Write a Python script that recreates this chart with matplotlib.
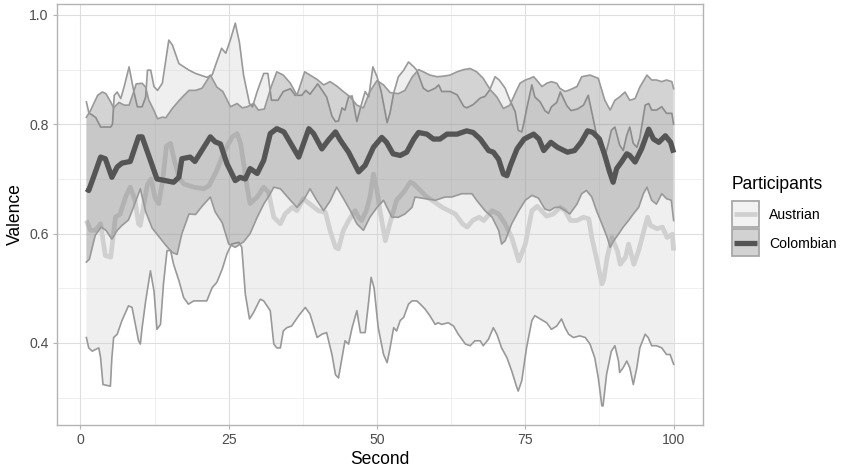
import matplotlib
matplotlib.use("Agg")
import numpy as np
import matplotlib.pyplot as plt
from matplotlib.patches import Rectangle
from matplotlib.lines import Line2D

plt.rcParams['font.family'] = ['Liberation Sans', 'DejaVu Sans']

# ---------------- data (second, valence) ----------------
participants = ["Austrian", "Colombian"]
x_ticks = [0, 25, 50, 75, 100]
y_ticks = [0.4, 0.6, 0.8, 1.0]
y_tick_labels = ["0.4", "0.6", "0.8", "1.0"]

austrian_mean = [
    (1, 0.624), (1.7, 0.606), (2.5, 0.606), (3.4, 0.618), (3.9, 0.581), (4.2, 0.560), (5.1, 0.557),
    (5.5, 0.593), (5.9, 0.630), (6.7, 0.636), (7.6, 0.667), (8.4, 0.685), (9.2, 0.661), (9.8, 0.618),
    (10.1, 0.615), (10.7, 0.654), (11.3, 0.690), (11.9, 0.700), (12.6, 0.665), (13.2, 0.655),
    (13.9, 0.700), (14.5, 0.760), (15.2, 0.765), (15.7, 0.740), (16.6, 0.703), (17.4, 0.691),
    (19.1, 0.685), (20.8, 0.682), (21.7, 0.688), (23.0, 0.716), (24.2, 0.749), (25.6, 0.777),
    (26.4, 0.783), (27.0, 0.765), (27.6, 0.722), (28.1, 0.685), (28.6, 0.655), (29.8, 0.667),
    (30.9, 0.685), (31.7, 0.676), (32.6, 0.630), (33.7, 0.618), (34.5, 0.636), (35.7, 0.648),
    (36.5, 0.642), (37.6, 0.664), (38.7, 0.654), (40.1, 0.642), (41.3, 0.639), (42.1, 0.605),
    (43.0, 0.575), (43.5, 0.572), (44.3, 0.605), (45.2, 0.624), (46.3, 0.642), (46.9, 0.630),
    (47.4, 0.624), (48.2, 0.642), (48.8, 0.667), (49.4, 0.709), (50.0, 0.679), (50.5, 0.642),
    (51.4, 0.587), (52.2, 0.620), (53.3, 0.661), (54.5, 0.676), (55.6, 0.694), (56.2, 0.691),
    (57.3, 0.679), (58.4, 0.667), (60.1, 0.655), (61.0, 0.648), (62.1, 0.642), (63.2, 0.636),
    (64.4, 0.618), (65.2, 0.612), (66.1, 0.624), (67.2, 0.630), (68.0, 0.624), (69.4, 0.642),
    (70.5, 0.636), (71.6, 0.618), (72.7, 0.593), (73.9, 0.550), (75.0, 0.581), (76.1, 0.642),
    (77.0, 0.650), (78.6, 0.632), (79.7, 0.636), (80.9, 0.648), (81.7, 0.642), (82.6, 0.624),
    (83.7, 0.624), (84.8, 0.630), (85.7, 0.627), (86.2, 0.593), (87.1, 0.550), (87.9, 0.508),
    (88.2, 0.515), (88.8, 0.557), (89.6, 0.593), (90.5, 0.569), (91.0, 0.544), (91.9, 0.557),
    (92.4, 0.581), (93.3, 0.544), (94.1, 0.569), (95.0, 0.606), (95.6, 0.630), (96.1, 0.615),
    (97.2, 0.609), (98.1, 0.612), (98.9, 0.593), (99.8, 0.599), (100, 0.569),
]

austrian_upper = [
    (1, 0.841), (1.46, 0.820), (2.0, 0.817), (2.6, 0.812), (3.4, 0.795), (5.1, 0.795), (5.4, 0.800),
    (5.7, 0.853), (6.2, 0.859), (6.8, 0.847), (7.4, 0.870), (8.2, 0.905), (9.0, 0.860), (9.6, 0.832),
    (10.4, 0.832), (11.0, 0.850), (11.3, 0.899), (11.85, 0.899), (12.4, 0.869), (13.0, 0.862),
    (13.8, 0.875), (14.9, 0.954), (15.5, 0.945), (16.6, 0.911), (18.3, 0.899), (19.4, 0.893),
    (21.3, 0.886), (22.2, 0.890), (23.0, 0.915), (23.8, 0.939), (24.5, 0.930), (25.3, 0.955),
    (26.1, 0.985), (26.8, 0.950), (27.5, 0.890), (28.5, 0.838), (29.0, 0.832), (29.8, 0.860),
    (30.9, 0.893), (31.6, 0.893), (32.2, 0.844), (33.3, 0.844), (34.2, 0.860), (35.4, 0.865),
    (36.2, 0.853), (37.3, 0.853), (38.0, 0.862), (38.7, 0.855), (40.0, 0.874), (41.5, 0.850),
    (42.4, 0.815), (43.0, 0.805), (43.5, 0.806), (44.1, 0.830), (44.6, 0.826), (45.2, 0.850),
    (45.8, 0.852), (46.6, 0.805), (47.2, 0.830), (48.0, 0.860), (48.6, 0.850), (49.3, 0.905),
    (50.0, 0.887), (50.7, 0.860), (51.7, 0.803), (52.2, 0.821), (52.8, 0.857), (53.6, 0.887),
    (54.5, 0.899), (55.3, 0.914), (56.2, 0.905), (56.7, 0.899), (57.8, 0.866), (58.6, 0.860),
    (59.8, 0.866), (60.4, 0.872), (60.9, 0.860), (62.3, 0.860), (63.5, 0.854), (64.6, 0.833),
    (65.1, 0.830), (66.2, 0.836), (67.4, 0.848), (68.2, 0.851), (69.0, 0.863), (69.9, 0.887),
    (70.6, 0.881), (71.6, 0.866), (72.4, 0.844), (73.3, 0.823), (73.8, 0.789), (74.4, 0.786),
    (74.7, 0.800), (75.3, 0.832), (76.1, 0.872), (76.6, 0.850), (77.5, 0.841), (78.3, 0.825),
    (78.9, 0.820), (79.4, 0.832), (80.3, 0.840), (80.9, 0.859), (82.0, 0.834), (82.7, 0.825),
    (83.8, 0.828), (84.8, 0.835), (85.6, 0.853), (86.5, 0.807), (87.3, 0.765), (87.9, 0.752),
    (88.4, 0.740), (89.0, 0.765), (89.5, 0.789), (90.1, 0.795), (90.9, 0.762), (91.5, 0.752),
    (92.1, 0.780), (92.6, 0.795), (93.2, 0.765), (93.8, 0.758), (94.3, 0.775), (95.2, 0.835),
    (95.8, 0.838), (96.3, 0.826), (97.1, 0.826), (98.0, 0.832), (98.8, 0.820), (99.7, 0.820),
    (100, 0.800),
]

austrian_lower = [
    (1.0, 0.410), (1.4, 0.391), (2.0, 0.385), (2.5, 0.388), (3.1, 0.391), (3.4, 0.373), (3.8, 0.324),
    (5.05, 0.321), (5.3, 0.373), (5.6, 0.410), (6.2, 0.416), (7.0, 0.441), (8.1, 0.468), (8.7, 0.465),
    (9.8, 0.404), (10.1, 0.398), (10.4, 0.428), (11.0, 0.477), (11.8, 0.532), (12.4, 0.495),
    (12.9, 0.425), (13.5, 0.434), (14.0, 0.508), (14.6, 0.569), (15.2, 0.569), (15.7, 0.544),
    (16.6, 0.514), (17.4, 0.483), (18.2, 0.471), (19.1, 0.477), (20.2, 0.477), (21.3, 0.477),
    (22.2, 0.501), (23.0, 0.511), (23.9, 0.535), (24.7, 0.563), (25.5, 0.581), (26.7, 0.584),
    (27.2, 0.575), (27.8, 0.489), (28.5, 0.444), (29.2, 0.456), (30.3, 0.480), (30.9, 0.477),
    (32.0, 0.459), (32.6, 0.398), (33.1, 0.391), (33.7, 0.391), (34.2, 0.422), (34.8, 0.428),
    (35.6, 0.431), (36.8, 0.450), (37.9, 0.465), (38.7, 0.453), (39.9, 0.410), (40.7, 0.416),
    (41.5, 0.419), (42.4, 0.379), (43.0, 0.342), (43.5, 0.336), (44.1, 0.373), (44.6, 0.404),
    (45.2, 0.398), (45.8, 0.428), (46.6, 0.459), (47.2, 0.419), (48.0, 0.419), (48.6, 0.477),
    (49.0, 0.520), (49.5, 0.501), (50.2, 0.428), (51.1, 0.379), (51.7, 0.364), (52.2, 0.391),
    (52.8, 0.428), (53.3, 0.422), (53.9, 0.441), (54.5, 0.447), (55.3, 0.471), (55.9, 0.477),
    (56.7, 0.477), (57.3, 0.471), (58.1, 0.462), (58.9, 0.450), (59.8, 0.434), (60.3, 0.437),
    (60.9, 0.434), (62.0, 0.437), (62.9, 0.431), (63.7, 0.416), (64.9, 0.398), (65.7, 0.395),
    (66.5, 0.404), (67.4, 0.404), (67.9, 0.395), (68.8, 0.407), (69.6, 0.428), (70.2, 0.416),
    (71.0, 0.391), (71.9, 0.373), (72.7, 0.349), (73.5, 0.321), (73.8, 0.312), (74.4, 0.331),
    (75.2, 0.391), (76.1, 0.441), (76.6, 0.450), (77.5, 0.444), (78.6, 0.437), (79.4, 0.425),
    (80.3, 0.431), (81.1, 0.444), (81.7, 0.428), (82.3, 0.416), (83.1, 0.410), (84.2, 0.413),
    (85.1, 0.410), (85.9, 0.398), (86.7, 0.373), (87.3, 0.336), (87.9, 0.285), (88.1, 0.285),
    (88.7, 0.343), (89.5, 0.385), (90.1, 0.395), (90.7, 0.367), (90.9, 0.346), (91.5, 0.355),
    (92.1, 0.367), (92.6, 0.355), (93.2, 0.324), (93.8, 0.355), (94.3, 0.391), (95.2, 0.416),
    (95.7, 0.410), (96.3, 0.395), (97.1, 0.395), (98.0, 0.391), (98.8, 0.379), (99.4, 0.379),
    (100, 0.361),
]

colombian_mean = [
    (1, 0.682), (1.4, 0.679), (2.2, 0.703), (3.4, 0.740), (4.2, 0.737), (5.3, 0.703), (6.2, 0.722),
    (7.0, 0.729), (8.4, 0.732), (9.8, 0.777), (10.4, 0.777), (11.8, 0.734), (12.9, 0.700),
    (14.3, 0.697), (15.7, 0.694), (16.6, 0.703), (17.1, 0.737), (18.5, 0.740), (19.3, 0.732),
    (20.8, 0.758), (21.9, 0.777), (22.7, 0.768), (23.6, 0.764), (24.7, 0.728), (26.1, 0.697),
    (26.9, 0.703), (27.8, 0.700), (28.6, 0.719), (29.8, 0.710), (30.9, 0.734), (32.0, 0.783),
    (33.1, 0.792), (34.3, 0.786), (34.8, 0.777), (36.8, 0.740), (38.5, 0.792), (39.3, 0.783),
    (40.7, 0.755), (41.8, 0.771), (43.0, 0.786), (43.8, 0.771), (45.2, 0.749), (46.9, 0.713),
    (48.0, 0.725), (49.4, 0.758), (50.8, 0.776), (51.6, 0.767), (52.7, 0.746), (53.9, 0.743),
    (55.0, 0.749), (56.2, 0.773), (57.0, 0.785), (58.4, 0.782), (59.5, 0.773), (60.6, 0.773),
    (61.8, 0.782), (63.5, 0.782), (65.1, 0.788), (66.2, 0.785), (67.4, 0.773), (68.8, 0.752),
    (69.6, 0.749), (70.5, 0.736), (71.3, 0.709), (71.9, 0.706), (72.5, 0.725), (73.6, 0.755),
    (74.8, 0.773), (76.4, 0.782), (77.3, 0.773), (78.1, 0.752), (79.3, 0.767), (80.4, 0.758),
    (82.1, 0.749), (83.3, 0.752), (84.4, 0.767), (85.5, 0.788), (86.4, 0.785), (87.5, 0.773),
    (88.4, 0.743), (89.2, 0.713), (89.8, 0.694), (90.4, 0.719), (91.2, 0.731), (92.1, 0.746),
    (92.6, 0.743), (93.5, 0.731), (94.6, 0.755), (95.8, 0.791), (96.6, 0.773), (97.5, 0.767),
    (98.6, 0.779), (99.5, 0.767), (100, 0.748),
]

colombian_upper = [
    (1, 0.813), (1.6, 0.823), (2.9, 0.853), (3.7, 0.859), (4.3, 0.856), (5.1, 0.841), (5.6, 0.830),
    (6.5, 0.840), (7.4, 0.835), (8.2, 0.835), (9.0, 0.860), (9.4, 0.874), (10.4, 0.875),
    (11.0, 0.868), (11.5, 0.845), (12.4, 0.825), (13.0, 0.810), (13.8, 0.813), (14.4, 0.812),
    (15.5, 0.829), (16.6, 0.843), (17.2, 0.850), (18.3, 0.862), (19.4, 0.862), (20.5, 0.866),
    (21.9, 0.890), (23.0, 0.868), (24.0, 0.860), (25.3, 0.832), (26.4, 0.838), (27.3, 0.830),
    (28.1, 0.832), (29.2, 0.838), (30.0, 0.826), (31.0, 0.828), (32.2, 0.870), (33.1, 0.896),
    (34.2, 0.890), (35.4, 0.875), (36.5, 0.853), (37.8, 0.896), (38.7, 0.890), (39.9, 0.882),
    (41.0, 0.872), (42.1, 0.878), (43.2, 0.870), (44.3, 0.860), (45.5, 0.850), (46.6, 0.835),
    (47.7, 0.830), (48.8, 0.860), (50.0, 0.880), (51.1, 0.872), (52.2, 0.858), (53.6, 0.856),
    (54.7, 0.862), (55.9, 0.886), (57.0, 0.900), (57.8, 0.896), (58.9, 0.890), (60.1, 0.887),
    (61.2, 0.888), (62.3, 0.890), (63.5, 0.896), (64.6, 0.900), (65.7, 0.902), (66.8, 0.896),
    (67.9, 0.884), (69.1, 0.863), (70.2, 0.850), (71.3, 0.829), (72.4, 0.835), (73.3, 0.857),
    (74.1, 0.875), (75.0, 0.881), (75.8, 0.884), (76.4, 0.887), (76.9, 0.881), (77.8, 0.869),
    (78.6, 0.875), (79.4, 0.878), (80.3, 0.875), (80.8, 0.866), (81.7, 0.860), (82.5, 0.863),
    (83.7, 0.869), (84.5, 0.887), (85.9, 0.890), (87.3, 0.884), (87.9, 0.862), (88.4, 0.844),
    (89.3, 0.826), (90.1, 0.844), (90.9, 0.850), (91.8, 0.859), (92.6, 0.844), (93.5, 0.847),
    (94.3, 0.868), (95.5, 0.890), (96.3, 0.881), (97.1, 0.881), (98.0, 0.878), (98.8, 0.881),
    (99.7, 0.878), (100, 0.865),
]

colombian_lower = [
    (1, 0.548), (1.5, 0.553), (2.5, 0.597), (3.5, 0.612), (4.3, 0.606), (5.3, 0.590), (6.2, 0.606),
    (7.0, 0.615), (8.1, 0.625), (9.0, 0.650), (10.1, 0.682), (11.0, 0.640), (12.1, 0.610),
    (13.2, 0.595), (14.3, 0.580), (15.4, 0.566), (16.3, 0.562), (17.1, 0.600), (18.3, 0.636),
    (19.4, 0.635), (20.5, 0.650), (21.9, 0.667), (22.7, 0.640), (23.9, 0.620), (25.0, 0.581),
    (26.1, 0.575), (27.5, 0.585), (28.6, 0.600), (29.8, 0.630), (30.9, 0.654), (32.0, 0.673),
    (32.6, 0.685), (33.7, 0.682), (34.2, 0.676), (35.4, 0.661), (36.5, 0.648), (37.6, 0.661),
    (38.7, 0.682), (39.9, 0.660), (41.0, 0.642), (42.1, 0.660), (43.2, 0.685), (44.3, 0.665),
    (45.5, 0.642), (46.6, 0.618), (47.7, 0.606), (48.8, 0.630), (50.0, 0.648), (51.1, 0.661),
    (52.5, 0.630), (53.6, 0.630), (54.7, 0.636), (55.9, 0.648), (56.4, 0.667), (58.1, 0.664),
    (59.8, 0.661), (61.5, 0.667), (62.6, 0.667), (64.3, 0.673), (66.0, 0.673), (66.8, 0.661),
    (68.2, 0.642), (69.4, 0.630), (70.5, 0.606), (71.0, 0.581), (71.6, 0.587), (72.7, 0.618),
    (73.9, 0.642), (75.0, 0.661), (76.1, 0.670), (77.2, 0.665), (78.3, 0.645), (79.1, 0.642),
    (80.0, 0.648), (80.8, 0.648), (81.7, 0.642), (82.5, 0.636), (83.7, 0.654), (84.5, 0.673),
    (85.3, 0.679), (86.2, 0.667), (87.0, 0.642), (87.9, 0.618), (88.8, 0.593), (89.3, 0.575),
    (89.9, 0.587), (90.7, 0.599), (91.5, 0.612), (92.4, 0.624), (93.2, 0.636), (94.1, 0.648),
    (94.9, 0.673), (95.5, 0.685), (96.3, 0.661), (97.1, 0.654), (98.0, 0.673), (98.8, 0.664),
    (99.6, 0.661), (100, 0.624),
]

# ---------------- styling ----------------
W, H, DPI = 841, 470, 100
fill_colors = {"Austrian": "#cccccc", "Colombian": "#6e6e6e"}
fill_alpha = 0.3
line_colors = {"Austrian": "#d0d0d0", "Colombian": "#555555"}
line_widths = {"Austrian": 3.4, "Colombian": 3.8}
edge_color = "#999999"
key_fill = {"Austrian": "#f2f2f2", "Colombian": "#d1d2d1"}

fig = plt.figure(figsize=(W / DPI, H / DPI), dpi=DPI)
ax = fig.add_axes([57 / W, 1 - 425 / H, (703 - 57) / W, (425 - 4) / H])

series = {
    "Austrian": (np.array(austrian_upper), np.array(austrian_lower), np.array(austrian_mean)),
    "Colombian": (np.array(colombian_upper), np.array(colombian_lower), np.array(colombian_mean)),
}

z = 2
for name in participants:
    up, lo, mean = series[name]
    px = np.concatenate([up[:, 0], lo[::-1, 0]])
    py = np.concatenate([up[:, 1], lo[::-1, 1]])
    ax.fill(px, py, facecolor=fill_colors[name], alpha=fill_alpha, edgecolor="none", zorder=z)
    ax.plot(up[:, 0], up[:, 1], color=edge_color, lw=1.2, zorder=z + 0.1, solid_joinstyle="round")
    ax.plot(lo[:, 0], lo[:, 1], color=edge_color, lw=1.2, zorder=z + 0.1, solid_joinstyle="round")
    ax.plot(mean[:, 0], mean[:, 1], color=line_colors[name], lw=line_widths[name],
            zorder=z + 0.2, solid_joinstyle="round", solid_capstyle="butt")
    z += 1

# limits with 5% expansion (ggplot style)
all_x = np.concatenate([a[:, 0] for s in series.values() for a in s])
all_y = np.concatenate([a[:, 1] for s in series.values() for a in s])
xr = all_x.max() - all_x.min()
yr = all_y.max() - all_y.min()
ax.set_xlim(all_x.min() - 0.05 * xr, all_x.max() + 0.05 * xr)
ax.set_ylim(all_y.min() - 0.05 * yr, all_y.max() + 0.05 * yr)

ax.set_xticks(x_ticks)
ax.set_xticklabels([str(t) for t in x_ticks])
ax.set_xticks([12.5, 37.5, 62.5, 87.5], minor=True)
ax.set_yticks(y_ticks)
ax.set_yticklabels(y_tick_labels)
ax.set_yticks([0.3, 0.5, 0.7, 0.9], minor=True)

ax.set_axisbelow(True)
ax.grid(which="major", color="#dedede", lw=0.8)
ax.grid(which="minor", color="#e6e6e6", lw=0.45)
for sp in ax.spines.values():
    sp.set_color("#b3b3b3")
    sp.set_linewidth(1.0)
ax.tick_params(which="major", length=3, width=0.8, color="#b3b3b3",
               labelsize=10.1, labelcolor="#4d4d4d", pad=3)
ax.tick_params(which="minor", length=0)

ax.set_xlabel("Second", fontsize=12.65, color="black", labelpad=3)
ax.set_ylabel("Valence", fontsize=12.65, color="black", labelpad=4)


# ---------------- legend (ggplot-style keys, placed in figure pixels) ----------------
def fx(px):
    return px / W


def fy(py):
    return 1 - py / H


fig.text(fx(731.5), fy(189.3), "Participants", fontsize=12.65, color="black",
         ha="left", va="baseline")
key_left, key_w, key_h, key_gap, key_top = 731.5, 27.5, 26.8, 1.8, 200.6
for i, name in enumerate(participants):
    top = key_top + i * (key_h + key_gap)
    fig.add_artist(Rectangle((fx(key_left), fy(top + key_h)), key_w / W, key_h / H,
                             transform=fig.transFigure, facecolor=key_fill[name],
                             edgecolor="#a8a8a8", lw=1.3))
    yc = top + key_h / 2
    fig.add_artist(Line2D([fx(key_left + 2), fx(key_left + key_w - 2)], [fy(yc), fy(yc)],
                          transform=fig.transFigure, color=line_colors[name],
                          lw=line_widths[name], solid_capstyle="butt"))
    fig.text(fx(769), fy(yc + 5.0), name, fontsize=10.1, color="black", ha="left", va="baseline")

fig.savefig("out.png", dpi=DPI)
